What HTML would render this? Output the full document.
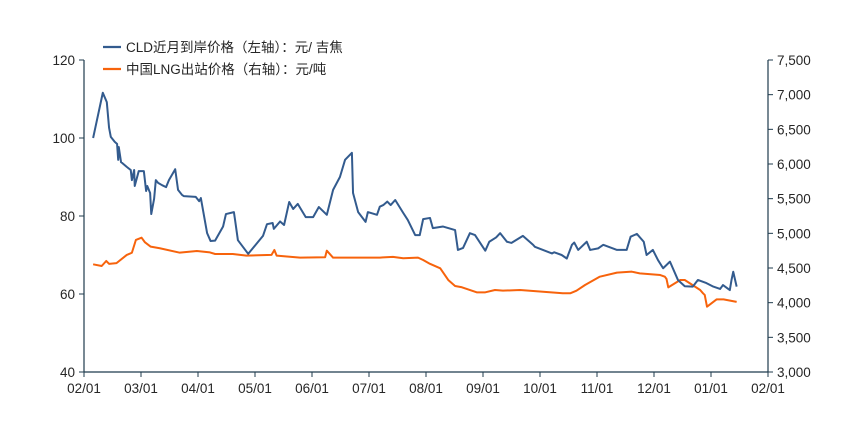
<!DOCTYPE html>
<html><head><meta charset="utf-8"><style>
body{margin:0;background:#fff}
svg text{font-family:"Liberation Sans","Noto Sans CJK SC",sans-serif;fill:#262626}
</style></head><body>
<svg id="chart" width="865" height="433" viewBox="0 0 865 433" xmlns="http://www.w3.org/2000/svg">
<g id="axes"></g><g id="series"></g>
<g>
<g><line x1="103" y1="47" x2="121" y2="47" stroke="#335b8e" stroke-width="2.2"/><text x="126" y="52" font-size="13.5">CLD近月到岸价格（左轴）：元/ 吉焦</text></g>
<g><line x1="103" y1="69" x2="121" y2="69" stroke="#f7630c" stroke-width="2.2"/><text x="126" y="74" font-size="13.5">中国LNG出站价格（右轴）：元/吨</text></g>
</g>
</svg>
<script>
const xTickLabels=["02/01","03/01","04/01","05/01","06/01","07/01","08/01","09/01","10/01","11/01","12/01","01/01","02/01"];
const leftTicks=[40,60,80,100,120];
const rightTicks=[3000,3500,4000,4500,5000,5500,6000,6500,7000,7500];
const cldMonths=[0.16,0.33,0.40,0.44,0.47,0.54,0.58,0.60,0.61,0.65,0.67,0.75,0.82,0.84,0.88,0.89,0.96,1.05,1.09,1.11,1.16,1.18,1.23,1.26,1.30,1.37,1.44,1.49,1.60,1.65,1.72,1.75,1.96,2.02,2.05,2.16,2.22,2.30,2.44,2.49,2.63,2.65,2.70,2.88,3.14,3.21,3.31,3.33,3.44,3.51,3.60,3.67,3.75,3.89,4.02,4.12,4.26,4.37,4.49,4.58,4.70,4.72,4.81,4.94,4.98,5.14,5.19,5.25,5.32,5.38,5.46,5.60,5.68,5.81,5.89,5.95,6.07,6.12,6.30,6.51,6.56,6.65,6.77,6.86,7.04,7.11,7.23,7.30,7.42,7.50,7.70,7.88,7.91,8.21,8.25,8.38,8.47,8.56,8.60,8.67,8.82,8.88,9.02,9.11,9.35,9.52,9.59,9.70,9.82,9.87,9.98,10.07,10.16,10.28,10.42,10.54,10.68,10.77,10.92,11.04,11.16,11.21,11.33,11.36,11.39,11.45];
const cldValues=[100,111.6,109.2,102.6,100.3,99,98.5,94.4,97.7,93.8,93.6,92.6,91.8,89.2,91.8,87.7,91.5,91.5,86.4,87.7,85.9,80.5,84.4,89.2,88.5,87.9,87.4,89.2,92,86.7,85.4,85.1,84.9,83.8,84.6,75.6,73.6,73.7,77.3,80.5,81,79,73.8,70.3,74.9,77.9,78.2,76.7,78.6,77.7,83.6,81.8,83.1,79.7,79.7,82.3,80.3,86.7,90,94.4,96.2,85.9,81,78.5,81,80.3,82.4,82.8,83.7,82.8,84.1,80.8,79,75.1,75.1,79.2,79.5,76.9,77.3,76.4,71.3,71.8,75.6,75.1,71.1,73.4,74.5,75.6,73.4,73.1,74.9,72.6,72.1,70.4,70.7,70,69.1,72.6,73.2,71.3,73.4,71.3,71.7,72.6,71.3,71.3,74.7,75.4,73.4,70,71.3,68.7,66.6,68.3,63.6,62,61.9,63.6,62.8,61.9,61.3,62.3,61,63.6,65.7,61.9,67.2];
const lngMonths=[0.16,0.31,0.39,0.44,0.57,0.75,0.84,0.91,1.01,1.07,1.17,1.33,1.68,1.98,2.21,2.30,2.61,2.85,3.29,3.34,3.38,3.79,4.23,4.26,4.37,5.19,5.25,5.42,5.60,5.86,5.95,6.07,6.25,6.39,6.51,6.63,6.89,7.04,7.21,7.35,7.65,8.40,8.53,8.64,8.79,9.05,9.35,9.61,9.75,10.11,10.19,10.22,10.25,10.46,10.54,10.81,10.86,10.89,10.93,11.10,11.22,11.45];
const lngValues=[4553,4529,4601,4560,4570,4688,4720,4904,4937,4870,4808,4785,4721,4745,4725,4702,4702,4678,4690,4760,4678,4649,4655,4750,4649,4649,4654,4660,4640,4650,4615,4560,4496,4327,4240,4222,4149,4149,4183,4173,4183,4135,4135,4173,4255,4375,4433,4447,4423,4399,4375,4341,4221,4327,4327,4183,4135,4111,3942,4048,4048,4011];
const X0=84,X1=768,Y0=372,Y1=60;
const xs=m=>X0+m*(X1-X0)/12;
const yl=v=>Y0-(v-40)/80*(Y0-Y1);
const yr=v=>Y0-(v-3000)/4500*(Y0-Y1);
const NS="http://www.w3.org/2000/svg";
const ax=document.getElementById('axes'),se=document.getElementById('series');
function mk(tag,attrs,parent){const e=document.createElementNS(NS,tag);for(const k in attrs)e.setAttribute(k,attrs[k]);parent.appendChild(e);return e;}
const ac="#1f3b4d";
let e=mk('line',{x1:X0,y1:Y1,x2:X0,y2:Y0,stroke:ac,'stroke-width':1.2},ax);


e=mk('line',{x1:X1,y1:Y1,x2:X1,y2:Y0,stroke:ac,'stroke-width':1.2},ax);


e=mk('line',{x1:X0,y1:Y0,x2:X1,y2:Y0,stroke:ac,'stroke-width':1.2},ax);


leftTicks.forEach(v=>{const y=yl(v);mk('line',{x1:X0-5,y1:y,x2:X0,y2:y,stroke:ac},ax);
const t=mk('text',{x:X0-9,y:y+5,'text-anchor':'end','font-size':13.5},ax);t.textContent=v;

});
rightTicks.forEach(v=>{const y=yr(v);mk('line',{x1:X1,y1:y,x2:X1+5,y2:y,stroke:ac},ax);
const t=mk('text',{x:X1+9,y:y+5,'font-size':13.5},ax);t.textContent=v.toLocaleString('en-US');

});
xTickLabels.forEach((s,i)=>{const x=xs(i);mk('line',{x1:x,y1:Y0,x2:x,y2:Y0+5,stroke:ac},ax);
const t=mk('text',{x:x,y:Y0+21,'text-anchor':'middle','font-size':13.5},ax);t.textContent=s;

});
const pl=mk('polyline',{points:lngMonths.map((m,i)=>xs(m)+','+yr(lngValues[i])).join(' '),fill:'none',stroke:'#f7630c','stroke-width':2,'stroke-linejoin':'round'},se);


const pb=mk('polyline',{points:cldMonths.map((m,i)=>xs(m)+','+yl(cldValues[i])).join(' '),fill:'none',stroke:'#335b8e','stroke-width':2,'stroke-linejoin':'round'},se);


</script>
</body></html>
